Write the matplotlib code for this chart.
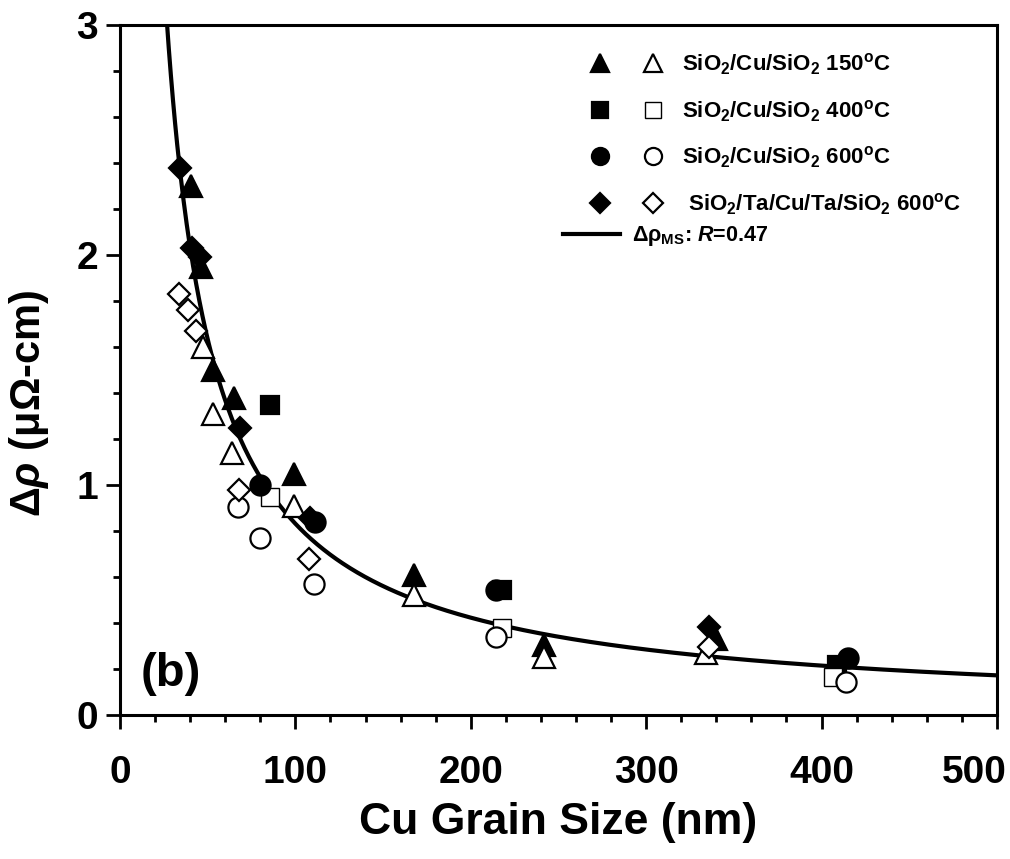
import numpy as np
import matplotlib
matplotlib.use('Agg')
import matplotlib.pyplot as plt
from matplotlib.legend_handler import HandlerTuple
from matplotlib.ticker import MultipleLocator
from matplotlib.transforms import ScaledTranslation

plt.rcParams['font.family'] = ['Liberation Sans', 'DejaVu Sans']
plt.rcParams['font.weight'] = 'bold'
plt.rcParams['mathtext.fontset'] = 'custom'
plt.rcParams['mathtext.rm'] = 'Liberation Sans:bold'
plt.rcParams['mathtext.it'] = 'Liberation Sans:italic:bold'
plt.rcParams['mathtext.bf'] = 'Liberation Sans:bold'
plt.rcParams['mathtext.sf'] = 'Liberation Sans:bold'

# SiO2/Cu/SiO2 150C
tri_fill_x = [40.4, 46.0, 53.3, 64.8, 99.0, 167.6, 241.9, 340.0]
tri_fill_y = [2.30, 1.95, 1.50, 1.38, 1.05, 0.61, 0.305, 0.33]
tri_open_x = [47.6, 53.3, 63.8, 99.0, 167.6, 241.9, 334.0]
tri_open_y = [1.60, 1.31, 1.14, 0.91, 0.52, 0.254, 0.27]
# SiO2/Cu/SiO2 400C
sq_fill_x = [85.7, 218.0, 408.6]
sq_fill_y = [1.35, 0.545, 0.217]
sq_open_x = [85.7, 218.0, 406.7]
sq_open_y = [0.95, 0.377, 0.167]
# SiO2/Cu/SiO2 600C
ci_fill_x = [80.0, 111.4, 214.3, 415.0]
ci_fill_y = [1.00, 0.84, 0.545, 0.246]
ci_open_x = [67.0, 80.0, 110.5, 214.3, 414.0]
ci_open_y = [0.906, 0.768, 0.57, 0.34, 0.145]
# SiO2/Ta/Cu/Ta/SiO2 600C
di_fill_x = [34.3, 41.0, 45.5, 68.6, 108.6, 336.0]
di_fill_y = [2.38, 2.03, 1.99, 1.25, 0.855, 0.384]
di_open_x = [33.9, 39.0, 43.4, 68.0, 107.6, 336.0]
di_open_y = [1.83, 1.76, 1.67, 0.98, 0.678, 0.297]

# Mayadas-Shatzkes model, R = 0.47
rho0 = 1.7
mfp = 39.0
R = 0.47
d_fit = np.linspace(20, 500, 800)
a = mfp / d_fit * R / (1 - R)
ratio = 1 - 1.5 * a + 3 * a**2 - 3 * a**3 * np.log(1 + 1 / a)
drho = rho0 / ratio - rho0

fig = plt.figure(figsize=(10.1, 8.59), dpi=100)
ax = fig.add_axes([0.1188, 0.1676, 0.8683, 0.8033])

ms_tri = 16
ms_sq = 13.5
ms_ci = 14.5
ms_di = 11.5
mew = 1.6

line, = ax.plot(d_fit, drho, color='black', lw=3.0, zorder=2)
tf, = ax.plot(tri_fill_x, tri_fill_y, '^', ms=ms_tri, color='black', mew=mew, ls='none', zorder=3)
to, = ax.plot(tri_open_x, tri_open_y, '^', ms=ms_tri, mfc='white', mec='black', mew=mew, ls='none', zorder=3)
sf, = ax.plot(sq_fill_x, sq_fill_y, 's', ms=ms_sq, color='black', mew=mew, ls='none', zorder=3)
so, = ax.plot(sq_open_x, sq_open_y, 's', ms=ms_sq, mfc='white', mec='black', mew=1.0, ls='none', zorder=3)
cf, = ax.plot(ci_fill_x, ci_fill_y, 'o', ms=ms_ci, color='black', mew=mew, ls='none', zorder=3)
co, = ax.plot(ci_open_x, ci_open_y, 'o', ms=ms_ci, mfc='white', mec='black', mew=mew, ls='none', zorder=3)
df, = ax.plot(di_fill_x, di_fill_y, 'D', ms=ms_di, color='black', mew=mew, ls='none', zorder=3)
do, = ax.plot(di_open_x, di_open_y, 'D', ms=ms_di, mfc='white', mec='black', mew=mew, ls='none', zorder=3)

ax.set_xlim(0, 500)
ax.set_ylim(0, 3)
ax.xaxis.set_major_locator(MultipleLocator(100))
ax.xaxis.set_minor_locator(MultipleLocator(20))
ax.yaxis.set_major_locator(MultipleLocator(1))
ax.yaxis.set_minor_locator(MultipleLocator(0.2))
ax.tick_params(which='both', direction='out', width=2, top=False, right=False)
ax.tick_params(which='major', length=10, labelsize=28)
ax.tick_params(which='minor', length=5)
ax.tick_params(axis='x', which='major', pad=19)
ax.tick_params(axis='y', which='major', pad=6)
for lab in ax.get_xticklabels() + ax.get_yticklabels():
    lab.set_fontweight('bold')
for s in ax.spines.values():
    s.set_linewidth(2.2)

# the "500" label is pulled left so it stays on the canvas, as in the original
fig.canvas.draw()
for lab in ax.get_xticklabels():
    if lab.get_text() == '500':
        lab.set_transform(lab.get_transform() + ScaledTranslation(-23 / 100, 0, fig.dpi_scale_trans))

ax.set_xlabel('Cu Grain Size (nm)', fontsize=32, fontweight='bold', labelpad=8)
ax.set_ylabel(r'$\Delta\mathit{\rho}$ (μΩ-cm)', fontsize=30, fontweight='bold')
ax.yaxis.set_label_coords(-0.079, 0.452)

ax.text(0.024, 0.028, '(b)', transform=ax.transAxes, fontsize=34, fontweight='bold',
        ha='left', va='bottom')

labels = [r'SiO$_2$/Cu/SiO$_2$ 150$^{\rm o}$C',
          r'SiO$_2$/Cu/SiO$_2$ 400$^{\rm o}$C',
          r'SiO$_2$/Cu/SiO$_2$ 600$^{\rm o}$C',
          r' SiO$_2$/Ta/Cu/Ta/SiO$_2$ 600$^{\rm o}$C']
leg1 = ax.legend([(tf, to), (sf, so), (cf, co), (df, do)], labels,
                 handler_map={tuple: HandlerTuple(ndivide=None, pad=0)},
                 loc='upper left', bbox_to_anchor=(0.517, 0.962), frameon=False,
                 fontsize=16, handlelength=4.77, handletextpad=0.1, labelspacing=0.95,
                 borderpad=0, borderaxespad=0, markerscale=0.85)
ax.add_artist(leg1)
ax.legend([line], [r'$\Delta\mathrm{\rho}_{\rm MS}$: $\mathit{R}$=0.47'], loc='center left',
          bbox_to_anchor=(0.505, 0.694), frameon=False, fontsize=15.5,
          handlelength=2.65, handletextpad=0.55, borderpad=0, borderaxespad=0)

fig.savefig('out.png', dpi=100)
